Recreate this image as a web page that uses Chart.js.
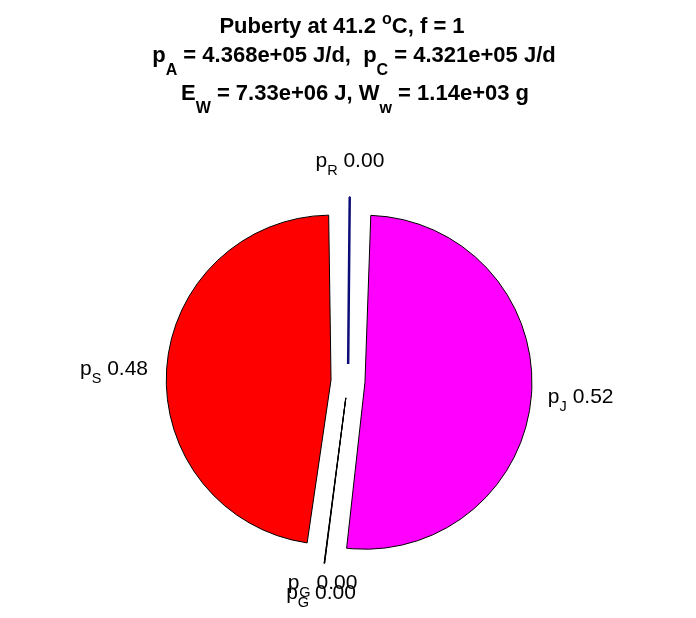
<!DOCTYPE html>
<html>
<head>
<meta charset="utf-8">
<script src="https://cdn.jsdelivr.net/npm/chart.js@4"></script>
<style>
  html, body { margin: 0; padding: 0; background: #fff; }
</style>
</head>
<body>
<canvas id="pieChart" width="696" height="618"></canvas>
<script>
// slices, clockwise from the top
const fluxNames = ['R', 'J', 'G', 'G', 'S'];          // subscript after "p"
const fluxValues = [0.003, 0.517, 0.0004, 0.0004, 0.479];
const fluxColors = ['#0000ff', '#ff00ff', '#00c000', '#00c000', '#ff0000'];
const edgeColors = ['#0c0c78', '#000000', '#000000', '#000000', '#000000'];
const edgeWidths = [2.5, 1, 1, 1, 1];

// numbers shown in the title
const tempC = '41.2';
const fValue = '1';
const pA = '4.368e+05';
const pC = '4.321e+05';
const EW = '7.33e+06';
const Ww = '1.14e+03';

const FONT = '"Liberation Sans", Arial, Helvetica, sans-serif';
const OFFSET = 68; // chart.js draws offset/4 as the explode shift

// width and drawing of a list of [text, 'sub'|'sup'|''] pieces
function runsWidth(ctx, runs, size, small, weight) {
  let w = 0;
  runs.forEach(([t, mode]) => {
    ctx.font = weight + ' ' + (mode ? small : size) + 'px ' + FONT;
    w += ctx.measureText(t).width;
  });
  return w;
}
function drawRuns(ctx, runs, x, base, size, small, weight, subShift, supShift) {
  runs.forEach(([t, mode]) => {
    ctx.font = weight + ' ' + (mode ? small : size) + 'px ' + FONT;
    let y = base;
    if (mode === 'sub') y += subShift;
    if (mode === 'sup') y -= supShift;
    ctx.fillText(t, x, y);
    x += ctx.measureText(t).width;
  });
}

const titlePlugin = {
  id: 'multiTitle',
  afterDraw(chart) {
    const ctx = chart.ctx;
    const lines = [
      [['Puberty at ' + tempC + ' ', ''], ['o', 'sup'], ['C, f = ' + fValue, '']],
      [['p', ''], ['A', 'sub'], [' = ' + pA + ' J/d,  p', ''], ['C', 'sub'], [' = ' + pC + ' J/d', '']],
      [['E', ''], ['W', 'sub'], [' = ' + EW + ' J, W', ''], ['w', 'sub'], [' = ' + Ww + ' g', '']]
    ];
    const baselines = [33, 62, 100];
    const shifts = [-6, 6, 7];
    ctx.save();
    ctx.fillStyle = '#000';
    ctx.textAlign = 'left';
    ctx.textBaseline = 'alphabetic';
    lines.forEach((runs, i) => {
      const w = runsWidth(ctx, runs, 22, 16, 'bold');
      drawRuns(ctx, runs, chart.width / 2 - w / 2 + shifts[i], baselines[i], 22, 16, 'bold', 13, 9);
    });
    ctx.restore();
  }
};

const sliceLabels = {
  id: 'sliceLabels',
  afterDatasetsDraw(chart) {
    const ctx = chart.ctx;
    const meta = chart.getDatasetMeta(0);
    const placed = [];
    ctx.save();
    ctx.fillStyle = '#000';
    ctx.textBaseline = 'alphabetic';
    meta.data.forEach((arc, i) => {
      const p = arc.getProps(['x', 'y', 'startAngle', 'endAngle', 'outerRadius'], true);
      const mid = (p.startAngle + p.endAngle) / 2;
      const r = 1.2 * (p.outerRadius + OFFSET / 4);
      const ax = p.x + Math.cos(mid) * r;
      const ay = p.y + Math.sin(mid) * r;
      const runs = [['p', ''], [fluxNames[i], 'sub'], [' ' + fluxValues[i].toFixed(2), '']];
      const w = runsWidth(ctx, runs, 21, 14.5, 'normal');
      let x = ax;
      if (Math.abs(Math.cos(mid)) < 0.25) x = ax - w / 2;
      else if (Math.cos(mid) < 0) x = ax - w;
      let base;
      if (Math.sin(mid) < -0.8) base = ay - 14;
      else if (Math.sin(mid) > 0.8) base = ay + 9;
      else base = ay + 7;
      // stack labels that would land on top of each other
      placed.forEach(q => {
        if (Math.abs(q.x - x) < 10 && Math.abs(q.base - base) < 8) { base = q.base + 10; x = q.x - 1.5; }
      });
      placed.push({x, base});
      drawRuns(ctx, runs, x, base, 21, 14.5, 'normal', 8, 8);
    });
    ctx.restore();
  }
};

new Chart(document.getElementById('pieChart'), {
  type: 'pie',
  data: {
    labels: fluxNames.map(n => 'p' + n),
    datasets: [{
      data: fluxValues,
      backgroundColor: fluxColors,
      borderColor: edgeColors,
      borderWidth: edgeWidths,
      offset: OFFSET
    }]
  },
  options: {
    responsive: false,
    animation: false,
    radius: 150,
    layout: { padding: { top: 150, bottom: 6 } },
    plugins: {
      legend: { display: false },
      tooltip: { enabled: false },
      title: { display: false }
    }
  },
  plugins: [titlePlugin, sliceLabels]
});
</script>
</body>
</html>
